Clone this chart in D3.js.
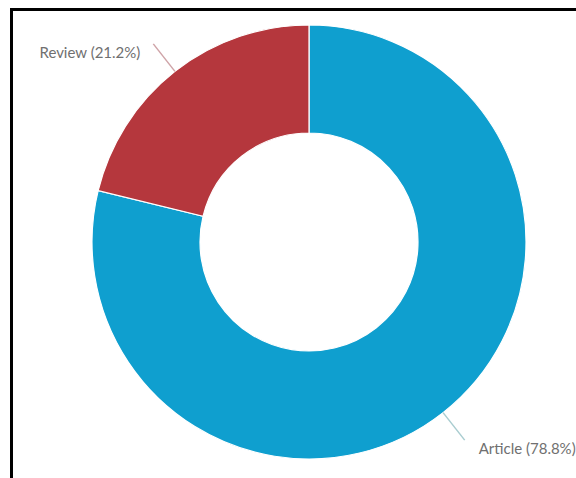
<!DOCTYPE html>
<html>
<head>
<meta charset="utf-8">
<script src="https://cdn.jsdelivr.net/npm/d3@7"></script>
<style>
  html, body { margin: 0; padding: 0; background: #fff; }
  svg { display: block; }
</style>
</head>
<body>
<svg id="chart" width="576" height="478"></svg>
<script>
// Document types and their shares (percent)
const categories = ["Article", "Review"];
const shares = [78.8, 21.2];
const colors = ["#0f9fcf", "#b5373d"];
const lineColors = ["#a9cdd0", "#cfa4a8"];

const svg = d3.select("#chart");
const W = 576, H = 478;

// Frame around the chart panel (open to the right and bottom)
svg.append("path")
  .attr("d", `M11.5,${H} L11.5,9.5 L${W},9.5`)
  .attr("fill", "none")
  .attr("stroke", "#000")
  .attr("stroke-width", 3);

const cx = 309, cy = 242;
const outerR = 217, innerR = 109;

const data = categories.map((c, i) => ({ name: c, value: shares[i], color: colors[i], lc: lineColors[i] }));

const pie = d3.pie().value(d => d.value).sort(null);
const arc = d3.arc().innerRadius(innerR).outerRadius(outerR);

const g = svg.append("g").attr("transform", `translate(${cx},${cy})`);

const arcs = pie(data);

g.selectAll("path.slice")
  .data(arcs)
  .join("path")
  .attr("class", "slice")
  .attr("d", arc)
  .attr("fill", d => d.data.color)
  .attr("stroke", "#fff")
  .attr("stroke-width", 1.2);

// Leader lines and labels
const pt = (a, r) => [Math.sin(a) * r, -Math.cos(a) * r];

arcs.forEach(d => {
  const mid = (d.startAngle + d.endAngle) / 2;
  const p0 = pt(mid, outerR);
  const p1 = pt(mid, 252);
  g.append("line")
    .attr("x1", p0[0]).attr("y1", p0[1])
    .attr("x2", p1[0]).attr("y2", p1[1])
    .attr("stroke", d.data.lc)
    .attr("stroke-width", 1.5);
  const right = p1[0] > 0;
  g.append("text")
    .attr("x", p1[0] + (right ? 14 : -13))
    .attr("y", p1[1] + 14)
    .attr("text-anchor", right ? "start" : "end")
    .attr("font-family", "Lato, 'Open Sans', sans-serif")
    .attr("font-size", 15)
    .attr("fill", "#707070")
    .text(`${d.data.name} (${d.data.value.toFixed(1)}%)`);
});
</script>
</body>
</html>
